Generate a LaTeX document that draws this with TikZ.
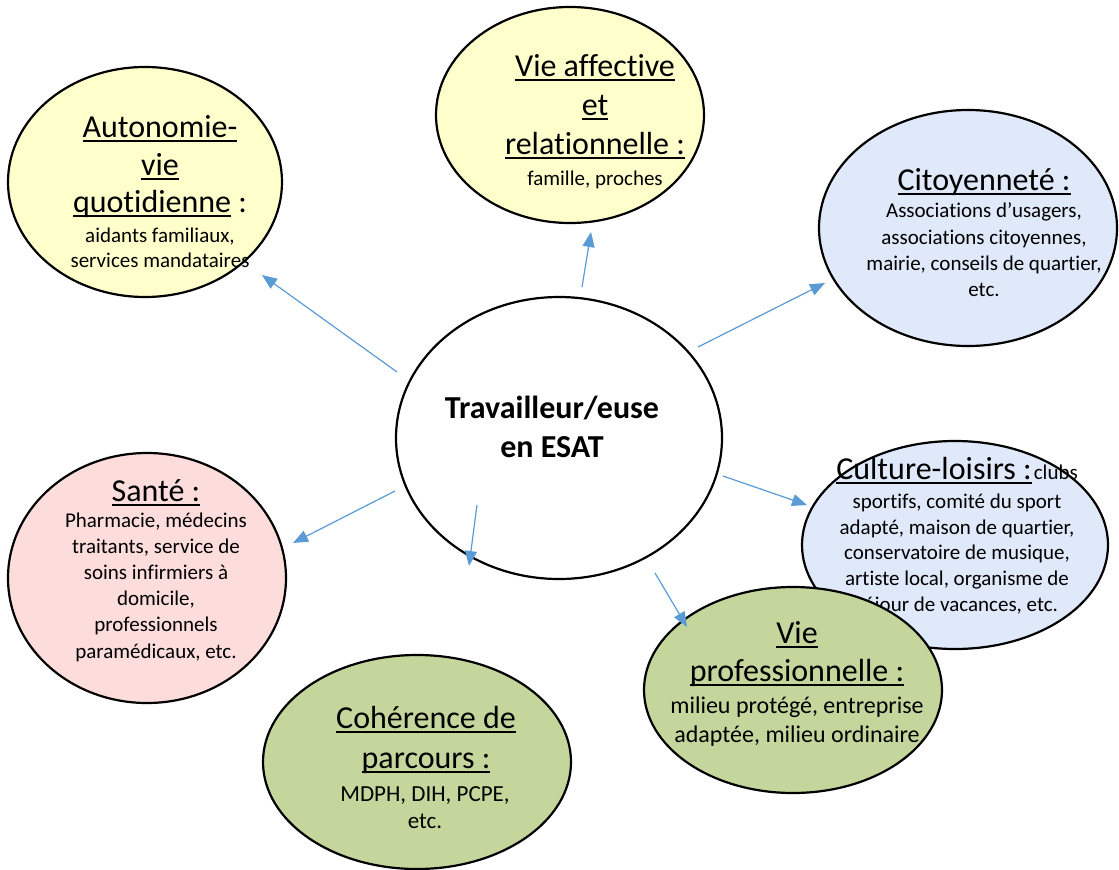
\documentclass[tikz,border=0pt]{standalone}
\usepackage{fontspec}
\setmainfont[Ligatures=NoCommon]{Carlito}
\usetikzlibrary{shapes.geometric,arrows.meta}

\definecolor{linkblue}{HTML}{5B9BD5}
\definecolor{paleyellow}{HTML}{FFFFCC}
\definecolor{paleblue}{HTML}{DFE9FA}
\definecolor{palepink}{HTML}{FDDCDC}
\definecolor{palegreen}{HTML}{C4D69C}

% underline sitting at a fixed depth below the baseline
\newcommand\ulin[1]{\setbox0\hbox{#1}\rlap{\rule[-0.17em]{\wd0}{0.07em}}\box0\relax}

\begin{document}
\begin{tikzpicture}[x=1pt,y=-1pt,
  bubble/.style={ellipse, draw=black, line width=2.2pt, inner sep=0pt},
  head/.style={anchor=base, inner sep=0pt, font=\fontsize{32}{38}\selectfont},
  body/.style={anchor=base, inner sep=0pt, font=\fontsize{21}{25}\selectfont},
  bodymid/.style={anchor=base, inner sep=0pt, font=\fontsize{23}{27}\selectfont},
  bodybig/.style={anchor=base, inner sep=0pt, font=\fontsize{24}{28}\selectfont},
  link/.style={draw=linkblue, line width=1.2pt, -{Triangle[length=15pt,width=12pt]}}]
\useasboundingbox (0,0) rectangle (1119,870);

% central worker
\node[bubble, fill=white, minimum width=326pt, minimum height=282pt] (centre) at (559,438) {};
\node[anchor=base, inner sep=0pt, font=\fontsize{32}{38}\selectfont\bfseries] (c1) at (552,418) {Travailleur/euse};
\node[anchor=base, inner sep=0pt, font=\fontsize{32}{38}\selectfont\bfseries] (c2) at (552,457) {en ESAT};

% autonomy
\node[bubble, fill=paleyellow, minimum width=274pt, minimum height=230pt] (auto) at (145,182) {};
\node[head] (au1) at (160,137) {\ulin{Autonomie-}};
\node[head] (au2) at (160,175) {\ulin{vie}};
\node[head] (au3) at (160,212) {\ulin{quotidienne} :};
\node[body] (au4) at (160,242) {aidants familiaux,};
\node[body] (au5) at (160,267) {services mandataires};

% emotional life
\node[bubble, fill=paleyellow, minimum width=268pt, minimum height=216pt] (affect) at (570,115) {};
\node[head] (va1) at (595,76) {\ulin{Vie affective}};
\node[head] (va2) at (595,115) {\ulin{et}};
\node[head] (va3) at (595,154) {\ulin{relationnelle :}};
\node[body] (va4) at (595,185) {famille, proches};

% citizenship
\node[bubble, fill=paleblue, minimum width=298pt, minimum height=236pt] (citoy) at (968,228) {};
\node[head] (ci1) at (984,190) {\ulin{Citoyenneté :}};
\node[body] (ci2) at (984,217) {Associations d’usagers,};
\node[body] (ci3) at (984,244) {associations citoyennes,};
\node[body] (ci4) at (984,270) {mairie, conseils de quartier,};
\node[body] (ci5) at (984,296) {etc.};

% culture and leisure
\node[bubble, fill=paleblue, minimum width=306pt, minimum height=208pt] (cult) at (955,545) {};
\node[anchor=base, inner sep=0pt] (cu1) at (957,479) {\fontsize{32}{38}\selectfont\ulin{Culture-loisirs :}\kern2pt\fontsize{21}{25}\selectfont clubs};
\node[body] (cu2) at (957,508) {sportifs, comité du sport};
\node[body] (cu3) at (957,534) {adapté, maison de quartier,};
\node[body] (cu4) at (957,559) {conservatoire de musique,};
\node[body] (cu5) at (957,585) {artiste local, organisme de};
\node[body] (cu6) at (957,611) {séjour de vacances, etc.};

% working life
\node[bubble, fill=palegreen, minimum width=298pt, minimum height=206pt] (pro) at (793,690) {};
\node[head] (vp1) at (797,643) {\ulin{Vie}};
\node[head] (vp2) at (797,681) {\ulin{professionnelle :}};
\node[bodybig] (vp3) at (797,713) {milieu protégé, entreprise};
\node[bodybig] (vp4) at (797,742) {adaptée, milieu ordinaire};

% care pathway
\node[bubble, fill=palegreen, minimum width=308pt, minimum height=214pt] (parc) at (417,762) {};
\node[head] (pa1) at (426,728) {\ulin{Cohérence de}};
\node[head] (pa2) at (426,768) {\ulin{parcours :}};
\node[bodymid] (pa3) at (425,801) {MDPH, DIH, PCPE,};
\node[bodymid] (pa4) at (425,828) {etc.};

% health
\node[bubble, fill=palepink, minimum width=278pt, minimum height=250pt] (sante) at (147,578) {};
\node[head] (sa1) at (156,501) {\ulin{Santé :}};
\node[body] (sa2) at (156,527) {Pharmacie, médecins};
\node[body] (sa3) at (156,553) {traitants, service de};
\node[body] (sa4) at (156,579) {soins infirmiers à};
\node[body] (sa5) at (156,605) {domicile,};
\node[body] (sa6) at (156,631) {professionnels};
\node[body] (sa7) at (156,658) {paramédicaux, etc.};

% arrow ends
\coordinate (s1) at (397,372); \coordinate (t1) at (262,275);
\coordinate (s2) at (582,287); \coordinate (t2) at (591,232);
\coordinate (s3) at (698,347); \coordinate (t3) at (825,283);
\coordinate (s4) at (723,476); \coordinate (t4) at (807,505);
\coordinate (s5) at (655,573); \coordinate (t5) at (687,627);
\coordinate (s6) at (477,505); \coordinate (t6) at (469,566);
\coordinate (s7) at (395,491); \coordinate (t7) at (293,543);

\draw[link] (s1) -- (t1);
\draw[link] (s2) -- (t2);
\draw[link] (s3) -- (t3);
\draw[link] (s4) -- (t4);
\draw[link] (s5) -- (t5);
\draw[link] (s6) -- (t6);
\draw[link] (s7) -- (t7);
\end{tikzpicture}
\end{document}
